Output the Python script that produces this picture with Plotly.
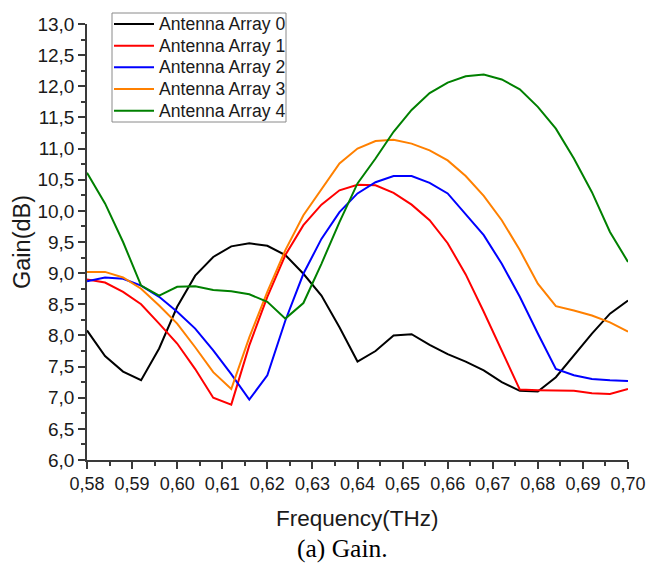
import plotly.graph_objects as go

# Frequency sweep (THz), 4 GHz step
freq = [0.580, 0.584, 0.588, 0.592, 0.596, 0.600, 0.604, 0.608, 0.612, 0.616,
        0.620, 0.624, 0.628, 0.632, 0.636, 0.640, 0.644, 0.648, 0.652, 0.656,
        0.660, 0.664, 0.668, 0.672, 0.676, 0.680, 0.684, 0.688, 0.692, 0.696,
        0.700]

# Gain (dB) of each antenna array
gain_array0 = [8.08, 7.67, 7.42, 7.28, 7.79, 8.46, 8.96, 9.26, 9.43, 9.48,
               9.44, 9.29, 8.99, 8.64, 8.13, 7.58, 7.75, 8.00, 8.02, 7.85,
               7.70, 7.58, 7.44, 7.25, 7.11, 7.10, 7.33, 7.68, 8.03, 8.35,
               8.56]
gain_array1 = [8.90, 8.85, 8.70, 8.50, 8.19, 7.87, 7.46, 7.00, 6.89, 7.84,
               8.62, 9.29, 9.77, 10.10, 10.33, 10.42, 10.41, 10.29, 10.10, 9.85,
               9.48, 8.98, 8.38, 7.76, 7.13, 7.12, 7.12, 7.11, 7.07, 7.06,
               7.14]
gain_array2 = [8.87, 8.93, 8.91, 8.80, 8.62, 8.38, 8.11, 7.76, 7.38, 6.97,
               7.36, 8.24, 8.99, 9.55, 9.98, 10.28, 10.46, 10.56, 10.56, 10.45,
               10.28, 9.95, 9.61, 9.15, 8.62, 8.03, 7.46, 7.36, 7.30, 7.28,
               7.27]
gain_array3 = [9.02, 9.02, 8.93, 8.75, 8.48, 8.19, 7.81, 7.41, 7.14, 7.97,
               8.70, 9.37, 9.93, 10.35, 10.76, 11.00, 11.12, 11.14, 11.08, 10.97,
               10.81, 10.56, 10.24, 9.85, 9.37, 8.83, 8.47, 8.40, 8.32, 8.21,
               8.06]
gain_array4 = [10.61, 10.12, 9.50, 8.80, 8.64, 8.78, 8.79, 8.73, 8.71, 8.66,
               8.54, 8.27, 8.52, 9.15, 9.82, 10.44, 10.84, 11.27, 11.62, 11.89,
               12.06, 12.16, 12.19, 12.11, 11.95, 11.67, 11.32, 10.84, 10.30, 9.66,
               9.18]

series_names = ["Antenna Array 0", "Antenna Array 1", "Antenna Array 2",
                "Antenna Array 3", "Antenna Array 4"]
series_colors = ["#000000", "#ff0000", "#0000ff", "#ff8000", "#008000"]
series_values = [gain_array0, gain_array1, gain_array2, gain_array3, gain_array4]

x_range = [0.58, 0.70]
y_range = [6.0, 13.0]

FONT = "Liberation Sans, Arial, sans-serif"
TEXT_COLOR = "#1a1a1a"
AXIS_COLOR = "#3a3a3a"

W, H = 648, 566
M_L, M_R, M_T, M_B = 87, 20, 24, 106
PLOT_W = W - M_L - M_R
PLOT_H = H - M_T - M_B


def px_x(px):
    """Horizontal pixel position -> paper coordinate."""
    return (px - M_L) / PLOT_W


def px_y(py):
    """Vertical pixel position (from top) -> paper coordinate."""
    return (H - M_B - py) / PLOT_H


fig = go.Figure()
for name, color, values in zip(series_names, series_colors, series_values):
    fig.add_trace(go.Scatter(
        x=freq, y=values, name=name, mode="lines",
        line=dict(color=color, width=2),
    ))

axis_common = dict(
    showline=True, linecolor=AXIS_COLOR, linewidth=1.5,
    showgrid=False, zeroline=False, mirror=False, automargin=False,
    ticks="outside", ticklen=7, tickwidth=1.5, tickcolor=AXIS_COLOR,
)

fig.update_xaxes(
    range=x_range, tick0=0.58, dtick=0.01, tickformat=".2f",
    tickfont=dict(family=FONT, size=18, color=TEXT_COLOR),
    minor=dict(ticks="outside", ticklen=4, tickwidth=1.5,
               tickcolor=AXIS_COLOR, dtick=0.005, tick0=0.58),
    **axis_common,
)
fig.update_yaxes(
    range=y_range, tick0=6.0, dtick=0.5, tickformat=".1f",
    tickfont=dict(family=FONT, size=19, color=TEXT_COLOR),
    minor=dict(ticks="outside", ticklen=4, tickwidth=1.5,
               tickcolor=AXIS_COLOR, dtick=0.25, tick0=6.0),
    **axis_common,
)

# Boxed legend drawn in paper space: frame, short line samples and labels
legend_box = dict(x0=112, x1=286, y0=13, y1=122)
legend_rows = [24, 45.7, 67.3, 89, 110.7]
shapes = [dict(type="rect", xref="paper", yref="paper",
               x0=px_x(legend_box["x0"]), x1=px_x(legend_box["x1"]),
               y0=px_y(legend_box["y1"]), y1=px_y(legend_box["y0"]),
               line=dict(color="#8a8a8a", width=1), fillcolor="white",
               layer="above")]
annotations = []
for name, color, row in zip(series_names, series_colors, legend_rows):
    shapes.append(dict(type="line", xref="paper", yref="paper",
                       x0=px_x(114), x1=px_x(154), y0=px_y(row), y1=px_y(row),
                       line=dict(color=color, width=2), layer="above"))
    annotations.append(dict(text=name, xref="paper", yref="paper",
                            x=px_x(157), y=px_y(row), xanchor="left",
                            yanchor="middle", showarrow=False,
                            font=dict(family=FONT, size=17.6, color=TEXT_COLOR)))

annotations += [
    dict(text="Frequency(THz)", xref="paper", yref="paper",
         x=0.5, y=px_y(518), xanchor="center", yanchor="middle",
         showarrow=False, font=dict(family=FONT, size=22.5, color=TEXT_COLOR)),
    dict(text="Gain(dB)", xref="paper", yref="paper",
         x=px_x(22), y=0.5, xanchor="center", yanchor="middle", textangle=-90,
         showarrow=False, font=dict(family=FONT, size=23.5, color=TEXT_COLOR)),
    dict(text="(a) Gain.", xref="paper", yref="paper",
         x=px_x(342), y=px_y(548), xanchor="center", yanchor="middle",
         showarrow=False,
         font=dict(family="Liberation Serif, Times New Roman, serif",
                   size=25.5, color="#000000")),
]

fig.update_layout(
    width=W, height=H,
    margin=dict(l=M_L, r=M_R, t=M_T, b=M_B),
    paper_bgcolor="white", plot_bgcolor="white",
    separators=", ",
    font=dict(family=FONT, color=TEXT_COLOR),
    showlegend=False,
    shapes=shapes,
    annotations=annotations,
)

fig.write_html("out.html")
